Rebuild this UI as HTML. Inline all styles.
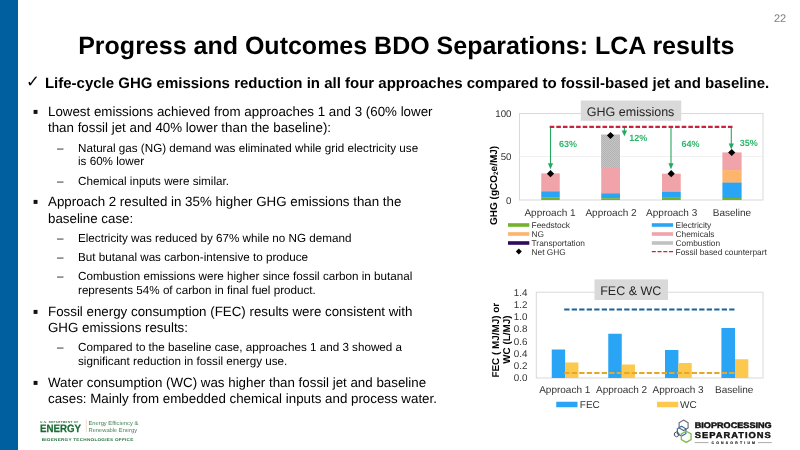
<!DOCTYPE html>
<html><head><meta charset="utf-8">
<style>
html,body{margin:0;padding:0;}
body{width:800px;height:450px;position:relative;overflow:hidden;background:#fff;font-family:"Liberation Sans",Arial,sans-serif;color:#000;}
.abs{position:absolute;white-space:nowrap;}
#bar{position:absolute;left:0;top:0;width:18px;height:450px;background:#005f9e;}
#title{left:0;width:814px;text-align:center;top:29px;font-size:25px;font-weight:bold;line-height:32px;}
#pg{left:774px;top:10px;font-size:11px;line-height:14px;color:#7f7f7f;}
#chk{left:44.5px;top:74px;font-size:15px;font-weight:bold;line-height:18px;}
#chkm{left:27px;top:74px;font-size:14px;line-height:18px;}
.l1{font-size:13.33px;line-height:16.5px;left:48px;}
.l2{font-size:11.67px;line-height:14px;left:78px;}
.b1{left:34.5px;width:3.4px;height:3.4px;background:#000;}
.b2{left:57px;font-size:11.67px;line-height:14px;}
svg{position:absolute;left:0;top:0;}
svg text{font-family:"Liberation Sans",Arial,sans-serif;text-rendering:geometricPrecision;}
</style></head><body>
<div id="bar"></div>
<svg width="800" height="450" viewBox="0 0 800 450">
<!-- TEXT -->
<g id="maintext" fill="#000">
<text x="774" y="22" font-size="11" fill="#808080">22</text>
<text x="78.2" y="54" font-size="25" font-weight="bold">Progress and Outcomes BDO Separations: LCA results</text>
<text x="25.9" y="86.6" font-size="16.5" font-family="'DejaVu Sans',sans-serif">✓</text>
<text x="44.9" y="88" font-size="15" font-weight="bold">Life-cycle GHG emissions reduction in all four approaches compared to fossil-based jet and baseline.</text>
<g font-size="13.33">
<text x="48" y="116">Lowest emissions achieved from approaches 1 and 3 (60% lower</text>
<text x="48" y="132">than fossil jet and 40% lower than the baseline):</text>
<text x="48" y="206">Approach 2 resulted in 35% higher GHG emissions than the</text>
<text x="48" y="223">baseline case:</text>
<text x="48" y="316">Fossil energy consumption (FEC) results were consistent with</text>
<text x="48" y="332">GHG emissions results:</text>
<text x="48" y="387">Water consumption (WC) was higher than fossil jet and baseline</text>
<text x="48" y="403">cases: Mainly from embedded chemical inputs and process water.</text>
</g>
<rect x="33.6" y="109.9" width="3.9" height="4" fill="#111"/>
<rect x="33.6" y="199.9" width="3.9" height="4" fill="#111"/>
<rect x="33.6" y="309.9" width="3.9" height="4" fill="#111"/>
<rect x="33.6" y="380.9" width="3.9" height="4" fill="#111"/>
<g font-size="11.67">
<text x="57" y="152">–</text>
<text x="78" y="152">Natural gas (NG) demand was eliminated while grid electricity use</text>
<text x="78" y="165">is 60% lower</text>
<text x="57" y="185">–</text>
<text x="78" y="185">Chemical inputs were similar.</text>
<text x="57" y="242">–</text>
<text x="78" y="242">Electricity was reduced by 67% while no NG demand</text>
<text x="57" y="261">–</text>
<text x="78" y="261">But butanal was carbon-intensive to produce</text>
<text x="57" y="280">–</text>
<text x="78" y="280">Combustion emissions were higher since fossil carbon in butanal</text>
<text x="78" y="294">represents 54% of carbon in final fuel product.</text>
<text x="57" y="351">–</text>
<text x="78" y="351">Compared to the baseline case, approaches 1 and 3 showed a</text>
<text x="78" y="365">significant reduction in fossil energy use.</text>
</g>
</g>
<defs><pattern id="dots" width="2" height="2" patternUnits="userSpaceOnUse"><rect width="2" height="2" fill="#c4c4c4"/><rect width="1" height="1" fill="#b4b4b4"/><rect x="1" y="1" width="1" height="1" fill="#b4b4b4"/></pattern></defs>
<!-- CHART 1 -->
<g id="chart1">
  <rect x="519.5" y="113.5" width="243.5" height="86.5" fill="none" stroke="#d9d9d9" stroke-width="1"/>
  <line x1="519.5" y1="156.5" x2="763" y2="156.5" stroke="#f0f0f0" stroke-width="1"/>
  <g font-size="9.7" fill="#333" text-anchor="end">
    <text x="511.5" y="116.6">100</text><text x="511.5" y="160.1">50</text><text x="511.5" y="203.6">0</text>
  </g>
  <!-- bars -->
  <g>
    <rect x="541.25" y="173.4" width="18.5" height="18" fill="#f0a3a8"/>
    <rect x="541.25" y="191.3" width="18.5" height="6.4" fill="#2aa5f5"/>
    <rect x="541.25" y="197.6" width="18.5" height="2.4" fill="#72b22e"/>

    <rect x="601.1" y="134.5" width="18.9" height="34" fill="url(#dots)"/>
    <rect x="601.25" y="168" width="18.75" height="25.5" fill="#f0a3a8"/>
    <rect x="601.25" y="193.3" width="18.75" height="5" fill="#2aa5f5"/>
    <rect x="601.25" y="198.2" width="18.75" height="1.8" fill="#72b22e"/>

    <rect x="662" y="173.7" width="18.75" height="18.2" fill="#f0a3a8"/>
    <rect x="662" y="191.8" width="18.75" height="6" fill="#2aa5f5"/>
    <rect x="662" y="197.6" width="18.75" height="2.4" fill="#72b22e"/>

    <rect x="722.4" y="152.4" width="19.2" height="18" fill="#f0a3a8"/>
    <rect x="722.4" y="170.1" width="19.2" height="12.7" fill="#fdb46c"/>
    <rect x="722.4" y="182.6" width="19.2" height="15.6" fill="#2aa5f5"/>
    <rect x="722.4" y="198" width="19.2" height="2" fill="#72b22e"/>
  </g>
  <!-- title box -->
  <rect x="580.75" y="100.5" width="100.5" height="20.3" fill="#d9d9d9"/>
  <text x="630.6" y="116.2" font-size="12.5" fill="#262626" text-anchor="middle">GHG emissions</text>
  <!-- red dashed -->
  <line x1="549.7" y1="126.9" x2="732.6" y2="126.9" stroke="#c9213f" stroke-width="2.3" stroke-dasharray="4.6 2"/>
  <!-- arrows -->
  <g stroke="#27a862" stroke-width="1.1" fill="#27a862">
    <line x1="550.5" y1="128" x2="550.5" y2="164"/><path d="M547.9 163.2 L553.1 163.2 L550.5 169.2 Z" stroke="none"/>
    <line x1="624.4" y1="128" x2="624.4" y2="131"/><path d="M621.7 130.6 L627.1 130.6 L624.4 136.2 Z" stroke="none"/>
    <line x1="671" y1="128" x2="671" y2="164"/><path d="M668.4 163.2 L673.6 163.2 L671 169.2 Z" stroke="none"/>
    <line x1="731.3" y1="128" x2="731.3" y2="144"/><path d="M728.7 143.5 L733.9 143.5 L731.3 149.5 Z" stroke="none"/>
  </g>
  <g font-size="9" font-weight="bold" fill="#2fb56a">
    <text x="559" y="147.4">63%</text><text x="629.3" y="140.6">12%</text><text x="681.5" y="147.3">64%</text><text x="739.8" y="145.5">35%</text>
  </g>
  <!-- diamonds -->
  <g fill="#000">
    <path d="M550.5 170.1 l3.6 3.6 l-3.6 3.6 l-3.6 -3.6 Z"/>
    <path d="M610.5 131.9 l3.6 3.6 l-3.6 3.6 l-3.6 -3.6 Z"/>
    <path d="M671.2 170.1 l3.6 3.6 l-3.6 3.6 l-3.6 -3.6 Z"/>
    <path d="M731.7 148.9 l3.6 3.6 l-3.6 3.6 l-3.6 -3.6 Z"/>
  </g>
  <!-- x labels -->
  <g font-size="10" fill="#333" text-anchor="middle">
    <text x="550" y="215.8">Approach 1</text><text x="611" y="215.8">Approach 2</text><text x="671.7" y="215.8">Approach 3</text><text x="732" y="215.8">Baseline</text>
  </g>
  <!-- y title -->
  <text transform="translate(496.8 185.4) rotate(-90)" font-size="10" font-weight="bold" fill="#000" text-anchor="middle">GHG (gCO<tspan font-size="6.4" dy="1.6">2</tspan><tspan dy="-1.6">e/MJ)</tspan></text>
  <!-- legend -->
  <g>
    <rect x="508" y="223.2" width="21.3" height="3.6" fill="#72b22e"/>
    <rect x="508" y="232.2" width="21.3" height="3.6" fill="#fdb46c"/>
    <rect x="508" y="241.2" width="21.3" height="3.6" fill="#2e0b5e"/>
    <path d="M518.8 248.6 l3 3 l-3 3 l-3 -3 Z" fill="#000"/>
    <rect x="651.8" y="223.2" width="21.3" height="3.6" fill="#2aa5f5"/>
    <rect x="651.8" y="232.2" width="21.3" height="3.6" fill="#f0a3a8"/>
    <rect x="651.8" y="241.2" width="21.3" height="3.6" fill="#c1c1c1"/>
    <line x1="651.8" y1="251.6" x2="673.1" y2="251.6" stroke="#c9213f" stroke-width="1.4" stroke-dasharray="4 1.75"/>
    <g font-size="8.33" fill="#333">
      <text x="531.6" y="227.9">Feedstock</text><text x="531.6" y="236.9">NG</text><text x="531.6" y="245.9">Transportation</text><text x="531.6" y="254.6">Net GHG</text>
      <text x="675.6" y="227.9">Electricity</text><text x="675.6" y="236.9">Chemicals</text><text x="675.6" y="245.9">Combustion</text><text x="675.6" y="254.6">Fossil based counterpart</text>
    </g>
  </g>
</g>

<!-- CHART 2 -->
<g id="chart2">
  <rect x="536.3" y="292.2" width="226.7" height="85.8" fill="none" stroke="#d9d9d9" stroke-width="1"/>
  <g font-size="9.8" fill="#333" text-anchor="end">
    <text x="527.4" y="295.8">1.4</text><text x="527.4" y="308">1.2</text><text x="527.4" y="320.2">1.0</text><text x="527.4" y="332.4">0.8</text>
    <text x="527.4" y="344.6">0.6</text><text x="527.4" y="356.8">0.4</text><text x="527.4" y="369">0.2</text><text x="527.4" y="381.2">0.0</text>
  </g>
  <g fill="#2aa5f5">
    <rect x="551.75" y="349.5" width="13.4" height="28.5"/>
    <rect x="608.25" y="333.75" width="13.5" height="44.25"/>
    <rect x="665" y="350" width="13.4" height="28"/>
    <rect x="721.4" y="328" width="13.6" height="50"/>
  </g>
  <g fill="#fdc84e">
    <rect x="565.1" y="362.5" width="13.3" height="15.5"/>
    <rect x="621.75" y="364.5" width="13.3" height="13.5"/>
    <rect x="678.3" y="363" width="13.4" height="15"/>
    <rect x="735" y="359.25" width="13.3" height="18.75"/>
  </g>
  <line x1="564.2" y1="309.4" x2="735" y2="309.4" stroke="#1c639d" stroke-width="2" stroke-dasharray="5.3 2.2"/>
  <line x1="564.2" y1="373" x2="735" y2="373" stroke="#e6a825" stroke-width="1.9" stroke-dasharray="5.3 2.2"/>
  <rect x="594.5" y="279.4" width="73.5" height="20.6" fill="#d9d9d9"/>
  <text x="630.8" y="294.6" font-size="12.5" fill="#262626" text-anchor="middle">FEC &amp; WC</text>
  <g font-size="10" fill="#333" text-anchor="middle">
    <text x="564.75" y="393">Approach 1</text><text x="621.6" y="393">Approach 2</text><text x="678.1" y="393">Approach 3</text><text x="734.25" y="393">Baseline</text>
  </g>
  <g font-size="9.9" font-weight="bold" fill="#000" text-anchor="middle">
    <text transform="translate(498.6 340.2) rotate(-90)">FEC ( MJ/MJ) or</text>
    <text transform="translate(509.8 339.6) rotate(-90)">WC (L/MJ)</text>
  </g>
  <rect x="556.25" y="401.75" width="21.25" height="5.5" fill="#2aa5f5"/>
  <rect x="657" y="401.75" width="21.2" height="5.5" fill="#fdc84e"/>
  <g font-size="10" fill="#333"><text x="579.8" y="407.9">FEC</text><text x="680" y="407.9">WC</text></g>
</g>
<!-- BSC LOGO -->
<g id="bsc">
  <g fill="none" stroke-linejoin="miter">
    <polygon points="683.60,420.10 688.10,422.70 688.10,427.90 683.60,430.50 679.10,427.90 679.10,422.70" stroke="#66666f" stroke-width="1.1"/>
    <polygon points="681.60,426.30 685.84,428.75 685.84,433.65 681.60,436.10 677.36,433.65 677.36,428.75" stroke="#2f6fae" stroke-width="1.2"/>
    <polygon points="676.60,431.80 678.77,433.05 678.77,435.55 676.60,436.80 674.43,435.55 674.43,433.05" stroke="#4a4a52" stroke-width="1"/>
    <polygon points="686.20,431.20 691.05,434.00 691.05,439.60 686.20,442.40 681.35,439.60 681.35,434.00" stroke="#82ba4c" stroke-width="1.3"/>
  </g>
  <g font-weight="bold" fill="#111">
    <text x="694.7" y="428.2" font-size="8.1" textLength="77" lengthAdjust="spacingAndGlyphs" stroke="#111" stroke-width="0.45">BIOPROCESSING</text>
    <text x="694.7" y="437.6" font-size="8.6" textLength="77" lengthAdjust="spacingAndGlyphs" stroke="#111" stroke-width="0.4" letter-spacing="0.9">SEPARATIONS</text>
    <text x="711.5" y="443.9" font-size="3.5" textLength="43.5" lengthAdjust="spacing" fill="#222" stroke="#222" stroke-width="0.15">CONSORTIUM</text>
  </g>
  <line x1="694.7" y1="442.6" x2="708.5" y2="442.6" stroke="#555" stroke-width="0.5"/>
  <line x1="758" y1="442.6" x2="771.8" y2="442.6" stroke="#555" stroke-width="0.5"/>
</g>
<!-- DOE LOGO -->
<g id="doe">
  <text x="40.2" y="422.6" font-size="2.8" font-weight="bold" fill="#1b6b35" textLength="38" lengthAdjust="spacing">U.S. DEPARTMENT OF</text>
  <text x="40" y="432.3" font-size="10.7" font-weight="bold" fill="#1b6b35" stroke="#1b6b35" stroke-width="0.25" textLength="41" lengthAdjust="spacingAndGlyphs">ENERGY</text>
  <line x1="86.3" y1="419.5" x2="86.3" y2="432.3" stroke="#d8c9a0" stroke-width="0.6"/>
  <g font-size="5.75" fill="#3f7f52">
    <text x="88.5" y="424.8">Energy Efficiency &amp;</text>
    <text x="88.5" y="431.6">Renewable Energy</text>
  </g>
  <text x="41.7" y="440.9" font-size="4" font-weight="bold" fill="#2a7541" textLength="91.8" lengthAdjust="spacingAndGlyphs" letter-spacing="0.2">BIOENERGY TECHNOLOGIES OFFICE</text>
</g>
</svg>
</body></html>
